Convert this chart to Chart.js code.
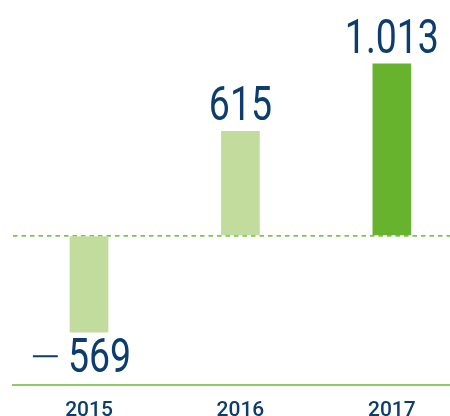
<!DOCTYPE html>
<html>
<head>
<meta charset="utf-8">
<script src="https://cdn.jsdelivr.net/npm/chart.js@4.4.1/dist/chart.umd.min.js"></script>
<style>
  html, body { margin: 0; padding: 0; background: #fff; }
  #wrap { width: 450px; height: 416px; }
</style>
</head>
<body>
<div id="wrap"><canvas id="chart"></canvas></div>
<script>
// Daten
const years = ['2015', '2016', '2017'];
const values = [-569, 615, 1013];
const barColors = ['#c2dc9d', '#c2dc9d', '#67b32e'];

const textColor = '#0c3d6d';
const lineColor = '#8fca68';
const zeroLineColor = '#80c24f';

// Zahl im deutschen Format
function formatValue(v) {
    return Math.abs(v).toString().replace(/\B(?=(\d{3})+(?!\d))/g, '.');
}

// Werte über / unter den Balken schreiben
const valueLabels = {
    id: 'valueLabels',
    afterDatasetsDraw(chart) {
        const ctx = chart.ctx;
        const meta = chart.getDatasetMeta(0);
        ctx.save();
        ctx.fillStyle = textColor;
        ctx.font = '400 48px Roboto';
        ctx.textAlign = 'center';
        ctx.textBaseline = 'alphabetic';
        meta.data.forEach((bar, i) => {
            const v = values[i];
            const txt = formatValue(v);
            const baseY = v >= 0 ? bar.y - 11 : bar.y + 6 + 34;
            ctx.save();
            ctx.translate(bar.x, baseY);
            ctx.scale(0.78, 1);
            if (v < 0) {
                // Zahl etwas nach rechts, langes dünnes Minus davor
                const w = ctx.measureText(txt).width;
                const dash = 32, gap = 13;
                const total = dash + gap + w;
                const left = -total / 2 - 9;
                ctx.textAlign = 'left';
                ctx.fillText(txt, left + dash + gap, 0);
                ctx.fillRect(left, -17, dash, 2);
            } else {
                ctx.fillText(txt, 0, 0);
            }
            ctx.restore();
        });
        ctx.restore();
    }
};

const ctx = document.getElementById('chart').getContext('2d');
const chart = new Chart(ctx, {
    type: 'bar',
    data: {
        datasets: [{
            data: values.map((v, i) => ({ x: i, y: v })),
            backgroundColor: barColors,
            borderWidth: 0,
            barThickness: 38
        }]
    },
    options: {
        responsive: true,
        maintainAspectRatio: false,
        animation: false,
        layout: { padding: { left: 13, right: 0, top: 0, bottom: 0 } },
        scales: {
            x: {
                type: 'linear',
                offset: false,
                min: -0.502,
                max: 2.384,
                grid: { display: false, drawTicks: false },
                border: { display: true, color: lineColor, width: 2 },
                afterBuildTicks: s => { s.ticks = years.map((y, i) => ({ value: i })); },
                ticks: {
                    autoSkip: false,
                    maxRotation: 0,
                    padding: 13,
                    color: textColor,
                    font: { family: 'Roboto', size: 21, weight: '500' },
                    callback: v => years[v] || ''
                },
                afterFit: s => { s.height = 31; }
            },
            y: {
                min: -880,
                max: 1390,
                ticks: { display: false, stepSize: 10 },
                grid: {
                    drawTicks: false,
                    lineWidth: 1.8,
                    color: c => c.tick && c.tick.value === 0 ? zeroLineColor : 'rgba(0,0,0,0)'
                },
                border: { display: false, dash: [4.5, 4] },
                afterFit: s => { s.width = 0; }
            }
        },
        plugins: {
            legend: { display: false },
            tooltip: { enabled: false }
        }
    },
    plugins: [valueLabels]
});
</script>
</body>
</html>
